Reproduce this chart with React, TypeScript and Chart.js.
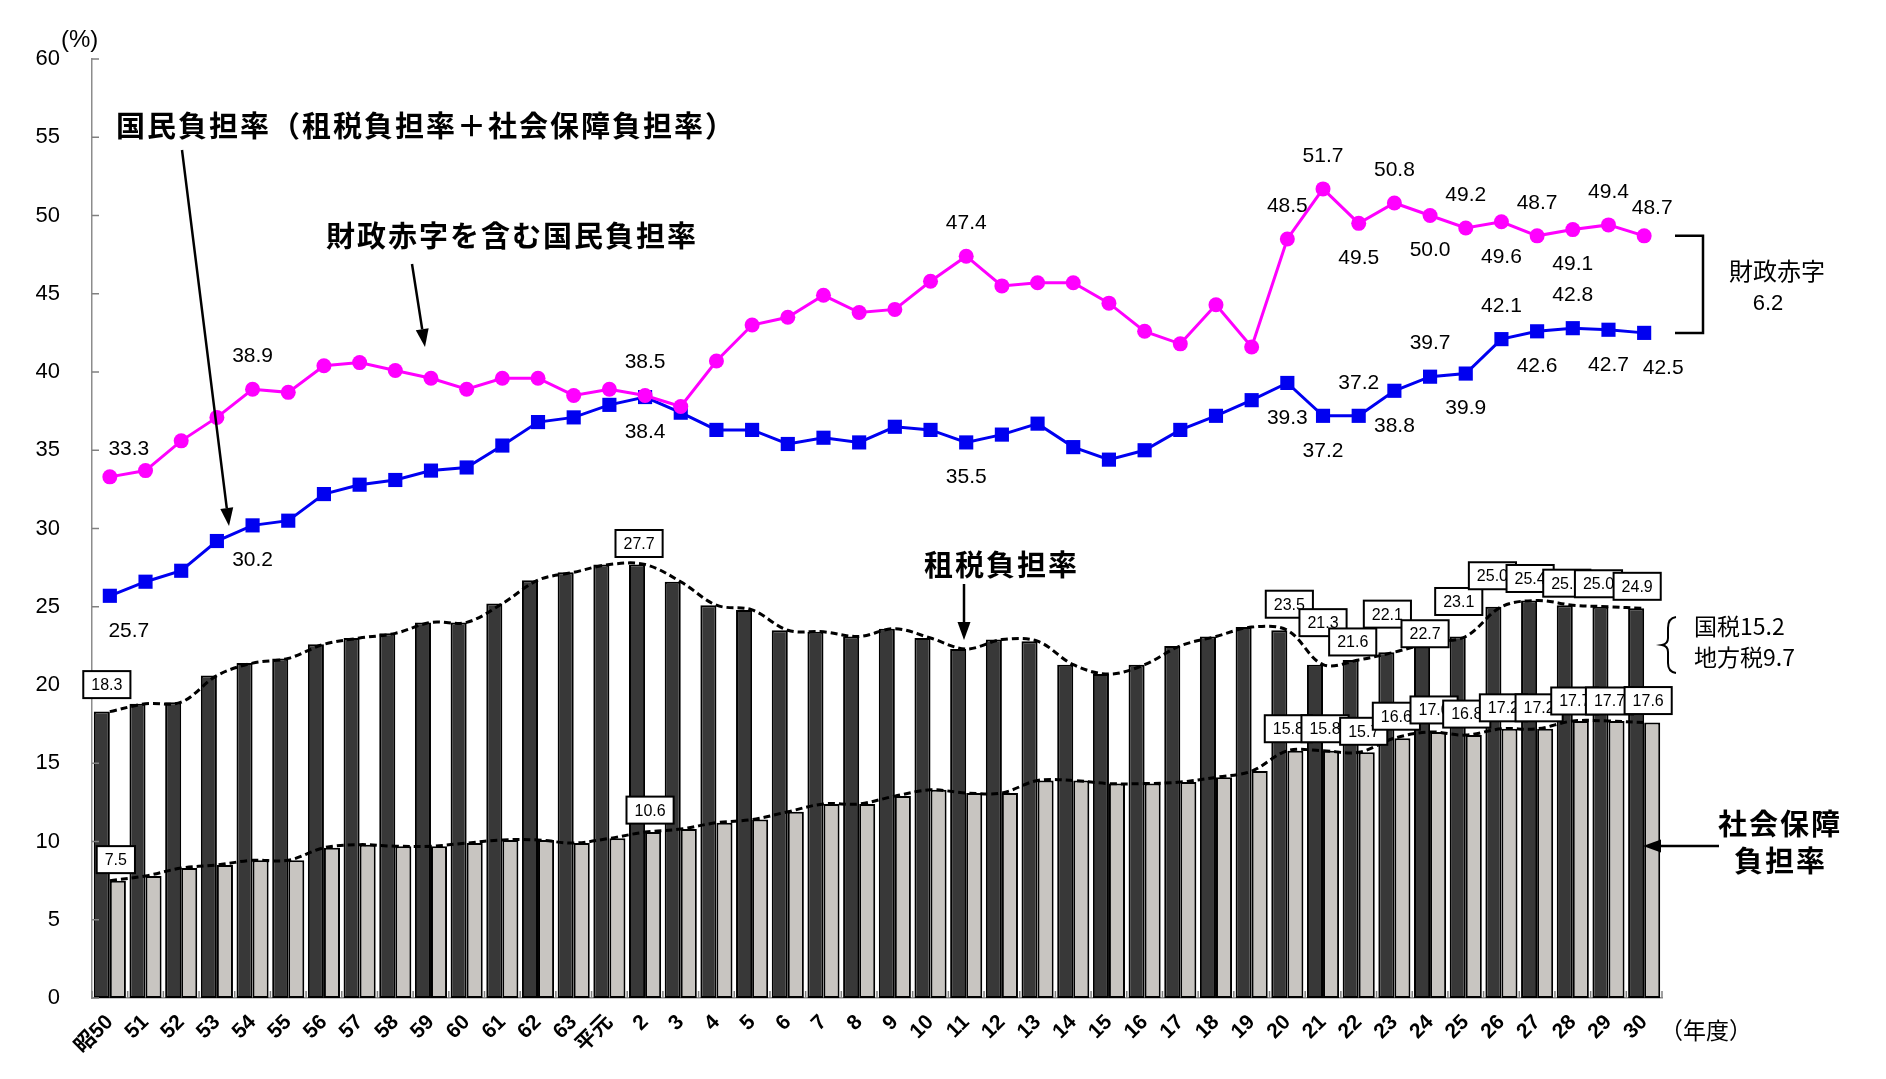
import React, { useEffect, useRef } from 'react';
import { Chart, registerables } from 'chart.js';

Chart.register(...registerables);

// ---------- data ----------
const categories = [
  '昭50', '51', '52', '53', '54', '55', '56', '57', '58', '59', '60', '61', '62', '63',
  '平元', '2', '3', '4', '5', '6', '7', '8', '9', '10', '11', '12', '13', '14', '15',
  '16', '17', '18', '19', '20', '21', '22', '23', '24', '25', '26', '27', '28', '29', '30',
];

// 租税負担率
const taxRate = [
  18.3, 18.8, 18.9, 20.6, 21.4, 21.7, 22.6, 23.0, 23.3, 24.0, 24.0, 25.2, 26.7, 27.2,
  27.7, 27.7, 26.6, 25.1, 24.8, 23.5, 23.4, 23.1, 23.6, 23.0, 22.3, 22.9, 22.8, 21.3, 20.7,
  21.3, 22.5, 23.1, 23.7, 23.5, 21.3, 21.6, 22.1, 22.7, 23.1, 25.0, 25.4, 25.1, 25.0, 24.9,
];

// 社会保障負担率
const socialRate = [
  7.5, 7.8, 8.3, 8.5, 8.8, 8.8, 9.6, 9.8, 9.7, 9.7, 9.9, 10.1, 10.1, 9.9,
  10.2, 10.6, 10.8, 11.2, 11.4, 11.9, 12.4, 12.4, 12.9, 13.3, 13.1, 13.1, 13.9, 13.9, 13.7,
  13.7, 13.8, 14.1, 14.5, 15.8, 15.8, 15.7, 16.6, 17.0, 16.8, 17.2, 17.2, 17.7, 17.7, 17.6,
];

// 国民負担率
const nationalRate = [
  25.7, 26.6, 27.3, 29.2, 30.2, 30.5, 32.2, 32.8, 33.1, 33.7, 33.9, 35.3, 36.8, 37.1,
  37.9, 38.4, 37.4, 36.3, 36.3, 35.4, 35.8, 35.5, 36.5, 36.3, 35.5, 36.0, 36.7, 35.2, 34.4,
  35.0, 36.3, 37.2, 38.2, 39.3, 37.2, 37.2, 38.8, 39.7, 39.9, 42.1, 42.6, 42.8, 42.7, 42.5,
];

// 財政赤字を含む国民負担率
const deficitRate = [
  33.3, 33.7, 35.6, 37.1, 38.9, 38.7, 40.4, 40.6, 40.1, 39.6, 38.9, 39.6, 39.6, 38.5,
  38.9, 38.5, 37.8, 40.7, 43.0, 43.5, 44.9, 43.8, 44.0, 45.8, 47.4, 45.5, 45.7, 45.7, 44.4,
  42.6, 41.8, 44.3, 41.6, 48.5, 51.7, 49.5, 50.8, 50.0, 49.2, 49.6, 48.7, 49.1, 49.4, 48.7,
];

const yMin = 0;
const yMax = 60;
const yStep = 5;

// which points carry a value label, and on which side ('a' above, 'b' below, 'ar'/'br' shifted right)
const deficitLabelIdx = [0, 4, 15, 24, 33, 34, 35, 36, 37, 38, 39, 40, 41, 42, 43];
const deficitLabelSide = ['ar', 'a', 'a', 'a', 'a', 'a', 'b', 'a', 'b', 'a', 'b', 'a', 'b', 'a', 'ar'];
const nationalLabelIdx = [0, 4, 15, 24, 33, 34, 35, 36, 37, 38, 39, 40, 41, 42, 43];
const nationalLabelSide = ['br', 'b', 'b', 'b', 'b', 'b', 'a', 'b', 'a', 'b', 'a', 'b', 'a', 'b', 'br'];

// boxed bar labels: index and box-centre offset from the bar top (px)
const taxBoxIdx = [0, 15, 33, 34, 35, 36, 37, 38, 39, 40, 41, 42, 43];
const taxBoxDx = [-3, -6, 2, 0, -6, -7, -5, -7, -9, -7, -6, -10, -7];
const taxBoxDy = [-27, -21, -26, -42, -18, -38, -9, -35, -31, -22, -22, -23, -22];
const socialBoxIdx = [0, 15, 33, 34, 35, 36, 37, 38, 39, 40, 41, 42, 43];
const socialBoxDx = [6, 5, 1, 2, 5, 2, 4, 1, 2, 2, 2, 1, 4];
const socialBoxDy = [-21, -22, -22, -22, -21, -22, -22, -21, -21, -21, -20, -20, -22];

const NARROW = "'Liberation Sans Narrow', 'Liberation Sans', Arial, sans-serif";
const SANS = "'Liberation Sans', Arial, sans-serif";
const JP = "'Noto Sans CJK JP', 'Noto Sans', sans-serif";

function arrow(ctx: CanvasRenderingContext2D, x1: number, y1: number, x2: number, y2: number) {
  const ang = Math.atan2(y2 - y1, x2 - x1);
  const len = 18;
  const hw = 6.5;
  const bx = x2 - len * Math.cos(ang);
  const by = y2 - len * Math.sin(ang);
  ctx.beginPath();
  ctx.moveTo(x1, y1);
  ctx.lineTo(bx, by);
  ctx.strokeStyle = '#000';
  ctx.lineWidth = 2.5;
  ctx.stroke();
  ctx.beginPath();
  ctx.moveTo(x2, y2);
  ctx.lineTo(bx + hw * Math.sin(ang), by - hw * Math.cos(ang));
  ctx.lineTo(bx - hw * Math.sin(ang), by + hw * Math.cos(ang));
  ctx.closePath();
  ctx.fillStyle = '#000';
  ctx.fill();
}

const overlayPlugin = {
  id: 'overlay',
  afterDatasetsDraw(chart: any) {
    const ctx: any = chart.ctx;
    const xs = chart.scales.x;
    const ys = chart.scales.y;
    const area = chart.chartArea;
    ctx.save();

    // inward tick marks
    ctx.strokeStyle = '#808080';
    ctx.lineWidth = 1.5;
    for (let v = yMin; v <= yMax; v += yStep) {
      const py = ys.getPixelForValue(v);
      ctx.beginPath();
      ctx.moveTo(area.left, py);
      ctx.lineTo(area.left + 7, py);
      ctx.stroke();
    }
    const n = categories.length;
    const step = (area.right - area.left) / n;
    for (let i = 0; i <= n; i++) {
      const px = area.left + i * step;
      ctx.beginPath();
      ctx.moveTo(px, area.bottom);
      ctx.lineTo(px, area.bottom - 7);
      ctx.stroke();
    }

    // line value labels
    ctx.fillStyle = '#000';
    ctx.font = `21px ${SANS}`;
    ctx.textAlign = 'center';
    ctx.textBaseline = 'middle';
    const putLabel = (idx: number, v: number, side: string) => {
      const px = xs.getPixelForValue(idx);
      const py = ys.getPixelForValue(v);
      let dx = 0;
      let dy = side[0] === 'a' ? -33 : 35;
      if (side === 'br') dx = 19;
      if (side === 'ar') {
        dy = -28;
        dx = idx === 0 ? 19 : 8;
      }
      ctx.fillText(v.toFixed(1), px + dx, py + dy);
    };
    deficitLabelIdx.forEach((idx, k) => putLabel(idx, deficitRate[idx], deficitLabelSide[k]));
    nationalLabelIdx.forEach((idx, k) => putLabel(idx, nationalRate[idx], nationalLabelSide[k]));

    // boxed bar labels
    ctx.font = `16px ${NARROW}`;
    const putBox = (idx: number, v: number, dx: number, dy: number) => {
      const cx = xs.getPixelForValue(idx) + dx;
      const cy = ys.getPixelForValue(v) + dy;
      const txt = v.toFixed(1);
      const w = ctx.measureText(txt).width + 16;
      const h = 27;
      ctx.fillStyle = '#fff';
      ctx.fillRect(cx - w / 2, cy - h / 2, w, h);
      ctx.strokeStyle = '#000';
      ctx.lineWidth = 2;
      ctx.strokeRect(cx - w / 2, cy - h / 2, w, h);
      ctx.fillStyle = '#000';
      ctx.fillText(txt, cx, cy + 1);
    };
    taxBoxIdx.forEach((idx, k) => putBox(idx, taxRate[idx], taxBoxDx[k], taxBoxDy[k]));
    socialBoxIdx.forEach((idx, k) => putBox(idx, socialRate[idx], socialBoxDx[k], socialBoxDy[k]));

    // axis unit labels
    ctx.fillStyle = '#000';
    ctx.textAlign = 'left';
    ctx.font = `24px ${SANS}`;
    ctx.fillText('(%)', 61, 40);
    ctx.font = `23px ${JP}`;
    ctx.fillText('（年度）', 1660, 1030);

    // annotations
    ctx.font = `bold 29px ${JP}`;
    ctx.letterSpacing = '2px';
    ctx.textAlign = 'left';
    ctx.fillText('国民負担率（租税負担率＋社会保障負担率）', 116, 126);
    ctx.fillText('財政赤字を含む国民負担率', 326, 236);
    ctx.fillText('租税負担率', 924, 565);
    ctx.fillText('社会保障', 1718, 824);
    ctx.fillText('負担率', 1734, 861);
    ctx.letterSpacing = '0px';
    arrow(ctx, 182, 150, 229, 526);
    arrow(ctx, 412, 264, 425, 347);
    arrow(ctx, 964, 584, 964, 640);
    arrow(ctx, 1719, 846, 1643, 846);

    // deficit bracket
    const yTop = ys.getPixelForValue(deficitRate[n - 1]);
    const yBot = ys.getPixelForValue(nationalRate[n - 1]);
    ctx.strokeStyle = '#000';
    ctx.lineWidth = 2.5;
    ctx.beginPath();
    ctx.moveTo(1675, yTop);
    ctx.lineTo(1703, yTop);
    ctx.lineTo(1703, yBot);
    ctx.lineTo(1675, yBot);
    ctx.stroke();
    ctx.font = `24px ${JP}`;
    ctx.textAlign = 'center';
    ctx.fillText('財政赤字', 1777, 271);
    ctx.font = `22px ${SANS}`;
    ctx.fillText('6.2', 1768, 304);

    // tax split brace
    ctx.lineWidth = 2;
    ctx.beginPath();
    ctx.moveTo(1676, 617);
    ctx.quadraticCurveTo(1668, 618, 1668, 628);
    ctx.lineTo(1668, 638);
    ctx.quadraticCurveTo(1668, 644, 1662, 645);
    ctx.quadraticCurveTo(1668, 646, 1668, 652);
    ctx.lineTo(1668, 663);
    ctx.quadraticCurveTo(1668, 672, 1676, 673);
    ctx.stroke();
    ctx.font = `23px ${JP}`;
    ctx.textAlign = 'left';
    ctx.fillText('国税15.2', 1694, 626);
    ctx.fillText('地方税9.7', 1694, 657);

    ctx.restore();
  },
};

export default function App() {
  const ref = useRef<HTMLCanvasElement | null>(null);

  useEffect(() => {
    if (!ref.current) return;
    const chart = new Chart(ref.current, {
      type: 'bar',
      data: {
        labels: categories,
        datasets: [
          {
            type: 'line',
            label: '財政赤字を含む国民負担率',
            data: deficitRate,
            borderColor: '#ff00ff',
            backgroundColor: '#ff00ff',
            borderWidth: 3,
            pointStyle: 'circle',
            pointRadius: 7.5,
            pointBorderWidth: 0,
            tension: 0,
            order: 1,
          } as any,
          {
            type: 'line',
            label: '国民負担率',
            data: nationalRate,
            borderColor: '#0000f0',
            backgroundColor: '#0000f0',
            borderWidth: 3,
            pointStyle: 'rect',
            pointRadius: 10,
            pointBorderWidth: 0,
            tension: 0,
            order: 2,
          } as any,
          {
            type: 'line',
            label: '租税負担率（線）',
            data: taxRate,
            borderColor: '#000',
            borderWidth: 3,
            borderDash: [7, 4],
            pointRadius: 0,
            tension: 0.35,
            order: 3,
          } as any,
          {
            type: 'line',
            label: '社会保障負担率（線）',
            data: socialRate,
            borderColor: '#000',
            borderWidth: 3,
            borderDash: [7, 4],
            pointRadius: 0,
            tension: 0.35,
            order: 3,
          } as any,
          {
            type: 'bar',
            label: '租税負担率',
            data: taxRate,
            backgroundColor: '#383838',
            borderColor: '#000',
            borderWidth: 2,
            borderSkipped: false,
            categoryPercentage: 0.9,
            barPercentage: 1.0,
            order: 5,
          } as any,
          {
            type: 'bar',
            label: '社会保障負担率',
            data: socialRate,
            backgroundColor: '#c8c5c1',
            borderColor: '#000',
            borderWidth: 2,
            borderSkipped: false,
            categoryPercentage: 0.9,
            barPercentage: 1.0,
            order: 5,
          } as any,
        ],
      },
      options: {
        animation: false,
        responsive: true,
        maintainAspectRatio: false,
        devicePixelRatio: 1,
        layout: { padding: { top: 59, right: 224, left: 0, bottom: 0 } },
        plugins: {
          legend: { display: false },
          tooltip: { enabled: false },
          title: { display: false },
        },
        scales: {
          x: {
            type: 'category',
            offset: true,
            grid: { display: false, drawTicks: false },
            border: { display: true, color: '#8c8c8c', width: 1.5 },
            ticks: {
              autoSkip: false,
              maxRotation: 45,
              minRotation: 45,
              padding: 12,
              color: '#000',
              font: { family: "'Liberation Sans', 'Noto Sans CJK JP', sans-serif", size: 21, weight: 'bold' },
            },
            afterFit: (s: any) => {
              s.height = 81;
            },
          },
          y: {
            min: yMin,
            max: yMax,
            grid: { display: false, drawTicks: false },
            border: { display: true, color: '#8c8c8c', width: 1.5 },
            ticks: {
              stepSize: yStep,
              padding: 32,
              color: '#000',
              font: { family: NARROW, size: 22 },
            },
            afterFit: (s: any) => {
              s.width = 92;
            },
          },
        },
      } as any,
      plugins: [overlayPlugin],
    });
    return () => chart.destroy();
  }, []);

  return (
    <div style={{ position: 'fixed', left: 0, top: 0, width: 1886, height: 1079, background: '#fff' }}>
      <canvas ref={ref} />
    </div>
  );
}
